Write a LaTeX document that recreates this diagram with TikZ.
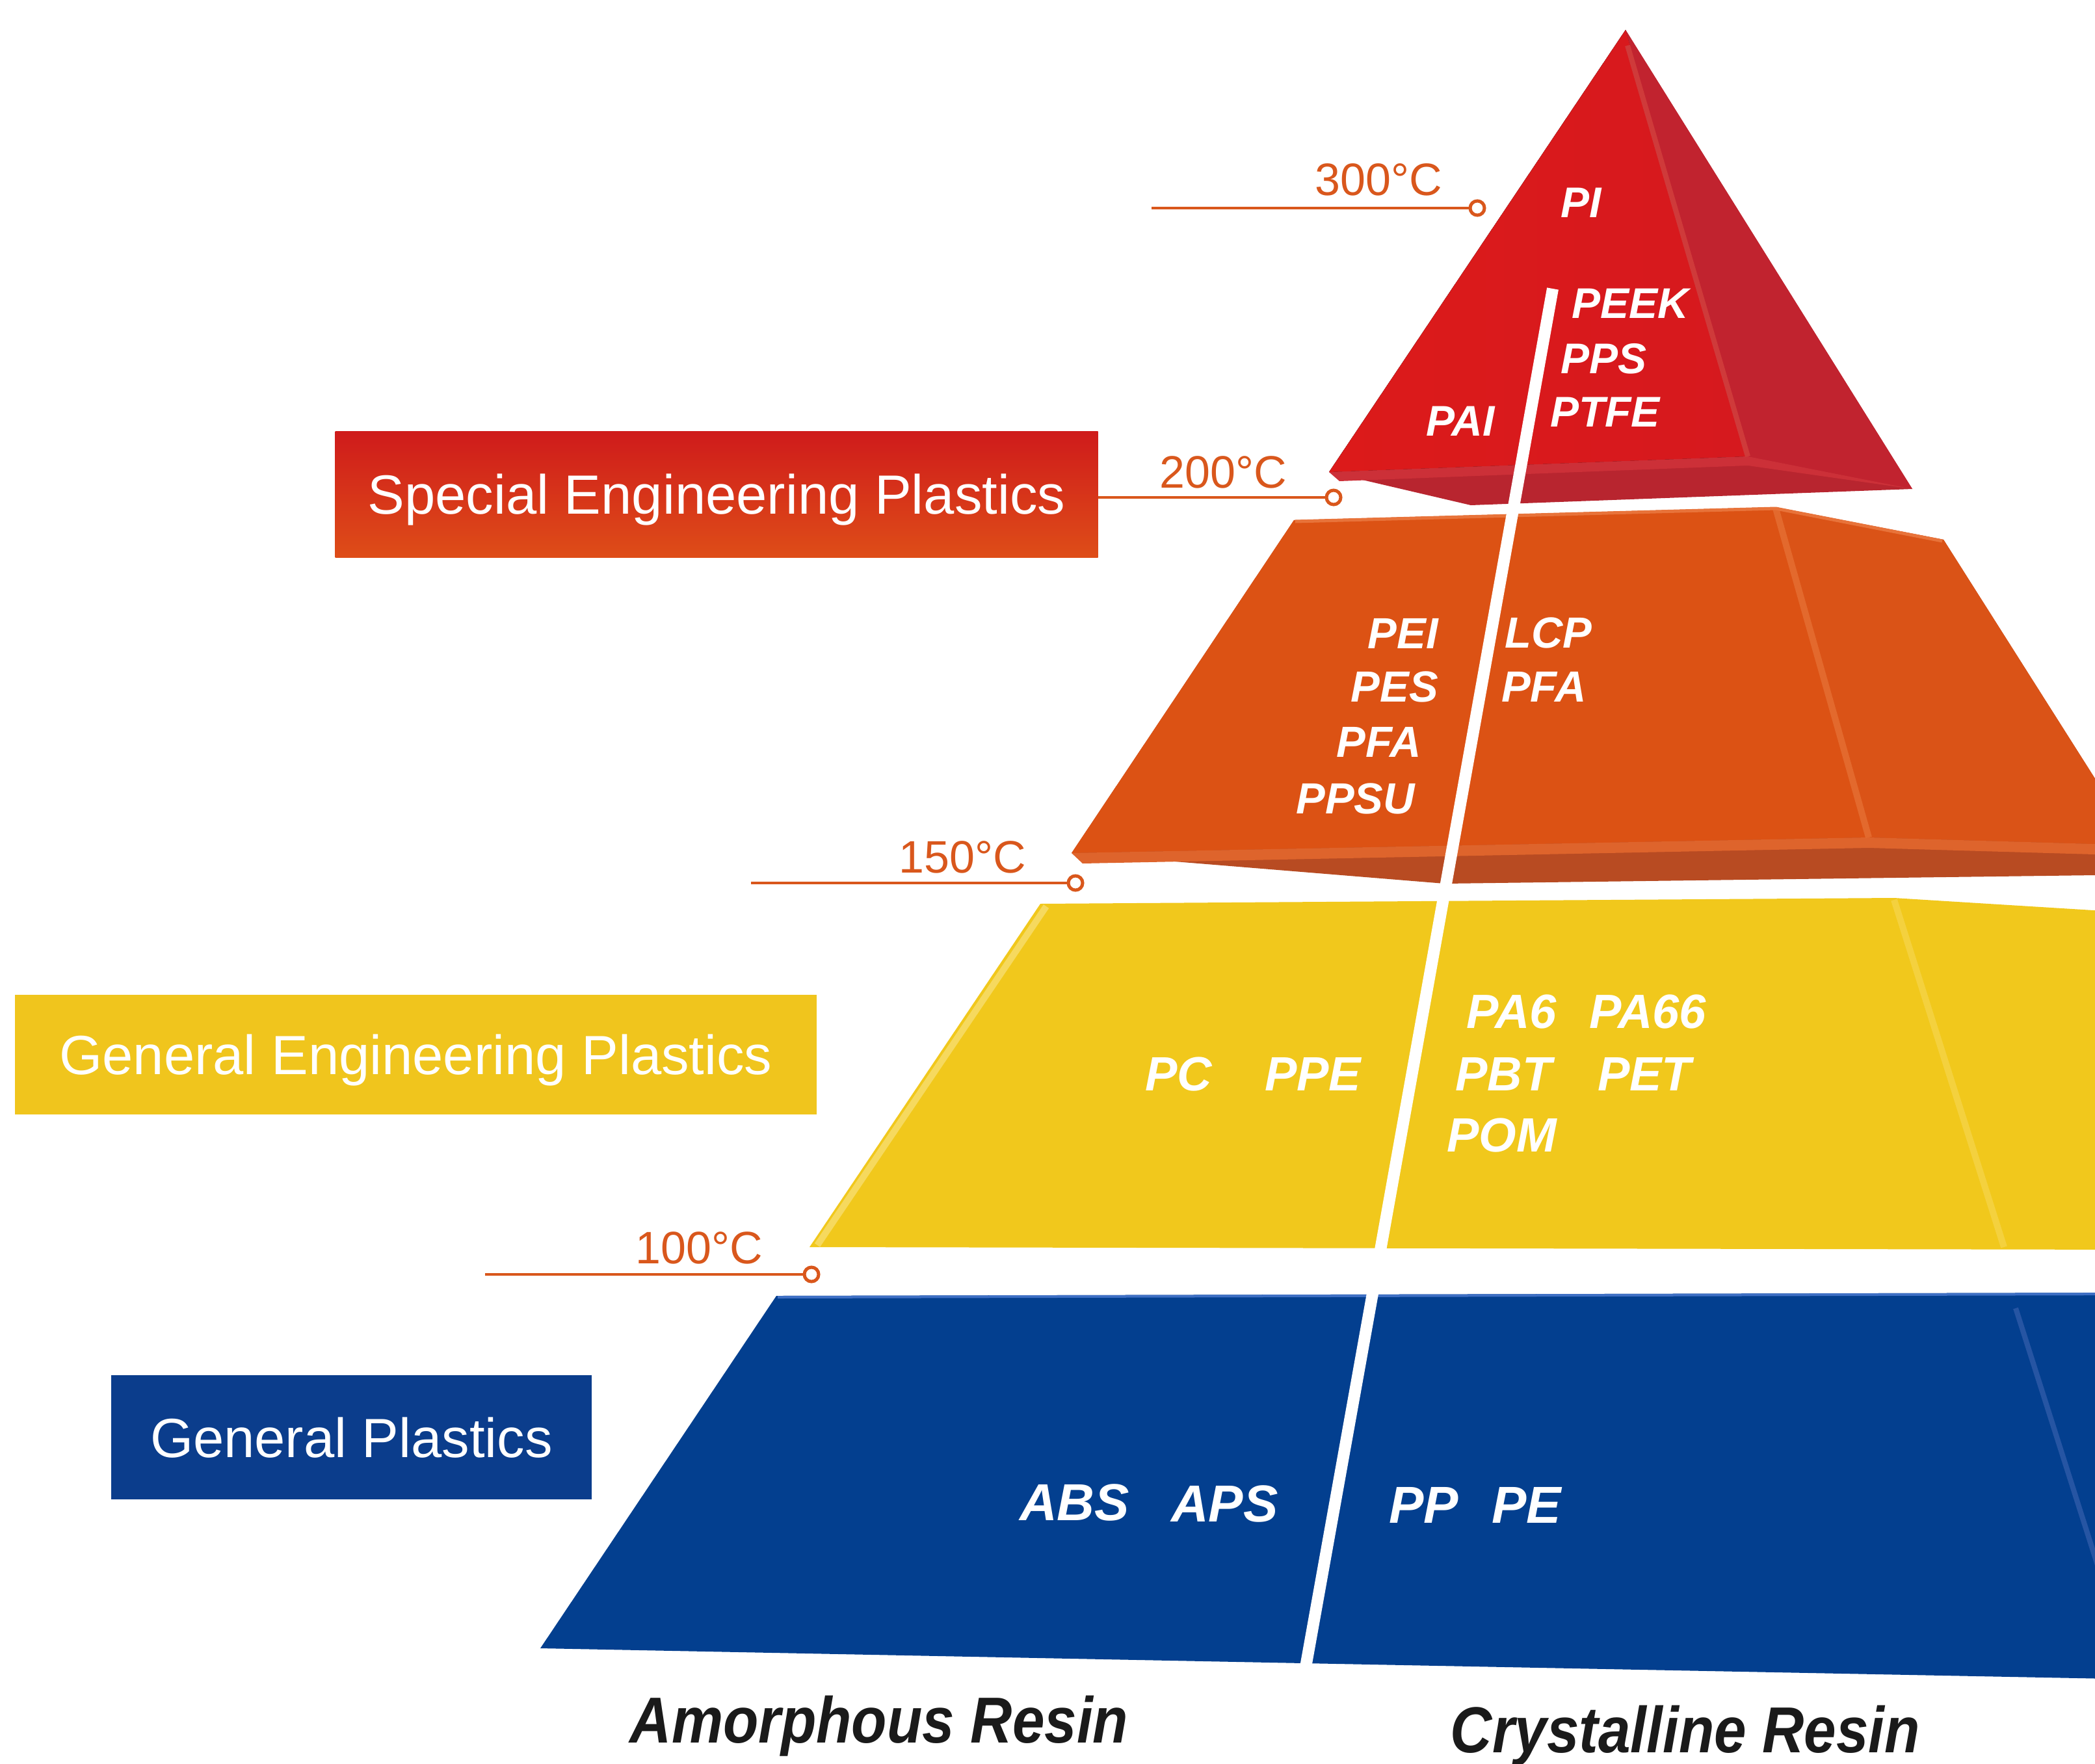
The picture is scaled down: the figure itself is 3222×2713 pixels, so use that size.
\documentclass[tikz,border=0pt]{standalone}
\usepackage{fontspec}
\setmainfont{Liberation Sans}
\newfontfamily\axisfont[FakeStretch=0.89]{Liberation Sans}
\definecolor{redfront}{HTML}{D6191E}
\definecolor{redfrontL}{HTML}{DC1A1A}
\definecolor{redright}{HTML}{C1232F}
\definecolor{redband}{HTML}{CC3038}
\definecolor{redbot}{HTML}{B8252F}
\definecolor{redridge}{HTML}{CF3A3A}
\definecolor{orfront}{HTML}{DC5214}
\definecolor{orright}{HTML}{DA5317}
\definecolor{orband}{HTML}{DE642C}
\definecolor{orbot}{HTML}{B84B22}
\definecolor{orridge}{HTML}{E3692D}
\definecolor{ortop}{HTML}{E8733A}
\definecolor{yelface}{HTML}{F1C81C}
\definecolor{yelridge}{HTML}{F4D13E}
\definecolor{yeledge}{HTML}{F6D95E}
\definecolor{bluface}{HTML}{033F8F}
\definecolor{bluridge}{HTML}{2655A3}
\definecolor{blutop}{HTML}{3E6FC4}
\definecolor{tempc}{HTML}{D9571C}
\definecolor{sepTop}{HTML}{CF1B1B}
\definecolor{sepBot}{HTML}{DE4D18}
\definecolor{gepc}{HTML}{F0C51D}
\definecolor{gpc}{HTML}{0B3D8C}
\definecolor{axisc}{HTML}{1A1A1A}
\begin{document}
\begin{tikzpicture}[x=1pt,y=-1pt,
  resin/.style={text=white, inner sep=0pt, font=\bfseries\itshape\fontsize{#1}{#1}\selectfont},
  temp/.style={text=tempc, inner sep=0pt, anchor=base east, font=\fontsize{70}{70}\selectfont},
  ring/.style={circle, draw=tempc, line width=5pt, fill=white, minimum size=22pt, inner sep=0pt},
  tline/.style={draw=tempc, line width=4pt},
  catbox/.style={text=white, inner sep=0pt, text height=61pt, text depth=0pt, font=\fontsize{85}{85}\selectfont},
  axislabel/.style={text=axisc, inner sep=0pt, anchor=base, font=\axisfont\bfseries\itshape\fontsize{100}{100}\selectfont}
]
\useasboundingbox (0,0) rectangle (3222,2713);
\fill[white] (0,0) rectangle (3222,2713);
\begin{scope}
\clip (0,0) rectangle (3222,2713);
% ---------- blue tier ----------
\fill[bluface] (1194,1993) -- (3300,1988) -- (3300,2583) -- (2005,2558) -- (831,2535) -- cycle;
\draw[blutop, line width=4pt] (1196,1995) -- (3300,1990);
\draw[bluridge, line width=8pt] (3100,2012) -- (3281,2580);
% ---------- yellow tier ----------
\fill[yelface] (1600,1390) -- (2913,1381) -- (3300,1405) -- (3300,1922) -- (1245,1918) -- cycle;
\draw[yelridge, line width=10pt] (2913,1384) -- (3082,1918);
\draw[yeledge, line width=10pt] (1609,1394) -- (1257,1915);
% ---------- orange tier ----------
\fill[orbot] (1990,800) -- (2731,780) -- (2989,830) -- (3287,1300) -- (3300,1345) -- (2222,1359) -- (1648,1312) -- cycle;
\fill[orfront] (1990,800) -- (2731,780) -- (2874,1288) -- (1648,1312) -- cycle;
\fill[orright] (2731,780) -- (2989,830) -- (3287,1300) -- (2874,1288) -- cycle;
\fill[orband] (1648,1312) -- (2874,1288) -- (3287,1300) -- (3290,1316) -- (2874,1304) -- (1665,1328) -- cycle;
\draw[orridge, line width=10pt] (2731,782) -- (2874,1288);
\draw[ortop, line width=5pt] (1992,802) -- (2731,782) -- (2987,832);
% ---------- red tier ----------
\fill[redbot] (2500,46) -- (2044,726) -- (2262,777) -- (2941,752) -- cycle;
\fill[left color=redfrontL, right color=redfront] (2500,46) -- (2044,726) -- (2688,702) -- cycle;
\fill[redright] (2500,46) -- (2688,702) -- (2941,752) -- cycle;
\fill[redband] (2044,726) -- (2688,702) -- (2941,752) -- (2688,716) -- (2060,740) -- cycle;
\draw[redridge, line width=8pt] (2503,70) -- (2688,702);
% ---------- divider ----------
\coordinate (dtop) at (2388,444);
\coordinate (dbot) at (2006,2575);
\draw[white, line width=18pt] (dtop) -- (dbot);
\end{scope}
% ---------- category boxes ----------
\node[catbox, top color=sepTop, bottom color=sepBot, minimum width=1173pt, minimum height=194pt] (sep) at (1102,760) {Special Engineering Plastics};
\node[catbox, fill=gepc, minimum width=1233pt, minimum height=184pt] (gep) at (639.5,1622) {General Engineering Plastics};
\node[catbox, fill=gpc, minimum width=739pt, minimum height=191pt] (gp) at (540.5,2210.5) {General Plastics};
% ---------- temperature markers ----------
\node[ring] (c300) at (2272,320) {};
\coordinate (l300) at (1771,320);
\draw[tline] (l300) -- (c300);
\node[temp] (t300) at (2218,301) {300°C};
\node[ring] (c200) at (2051,765) {};
\draw[tline] (sep.east |- c200) -- (c200);
\node[temp] (t200) at (1979,750) {200°C};
\node[ring] (c150) at (1654,1358) {};
\coordinate (l150) at (1155,1358);
\draw[tline] (l150) -- (c150);
\node[temp] (t150) at (1578,1342) {150°C};
\node[ring] (c100) at (1248,1960) {};
\coordinate (l100) at (746,1960);
\draw[tline] (l100) -- (c100);
\node[temp] (t100) at (1173,1943) {100°C};
% ---------- red resins ----------
\node[resin=66, anchor=west] (pi) at (2400,312) {PI};
\node[resin=66, anchor=west] (peek) at (2417,467) {PEEK};
\node[resin=66, anchor=west] (pps) at (2400,552) {PPS};
\node[resin=66, anchor=west] (ptfe) at (2384,634) {PTFE};
\node[resin=66, anchor=west] (pai) at (2193,648) {PAI};
% ---------- orange resins ----------
\node[resin=67, anchor=east] (pei) at (2212,974) {PEI};
\node[resin=67, anchor=east] (pes) at (2212,1056) {PES};
\node[resin=67, anchor=east] (pfal) at (2186,1141) {PFA};
\node[resin=67, anchor=east] (ppsu) at (2176,1228) {PPSU};
\node[resin=67, anchor=west] (lcp) at (2314,973) {LCP};
\node[resin=67, anchor=west] (pfar) at (2309,1056) {PFA};
% ---------- yellow resins ----------
\node[resin=74, anchor=west] (pc) at (1761,1652) {PC};
\node[resin=74, anchor=west] (ppe) at (1945,1652) {PPE};
\node[resin=74, anchor=west] (pa6) at (2255,1556) {PA6};
\node[resin=74, anchor=west] (pa66) at (2444,1556) {PA66};
\node[resin=74, anchor=west] (pbt) at (2238,1652) {PBT};
\node[resin=74, anchor=west] (pet) at (2457,1652) {PET};
\node[resin=74, anchor=west] (pom) at (2225,1746) {POM};
% ---------- blue resins ----------
\node[resin=80, anchor=west] (abs) at (1568,2311) {ABS};
\node[resin=80, anchor=west] (aps) at (1801,2313) {APS};
\node[resin=80, anchor=west] (pp) at (2136,2315) {PP};
\node[resin=80, anchor=west] (pe) at (2294,2315) {PE};
% ---------- axis labels ----------
\node[axislabel] (amor) at (1352,2680) {Amorphous Resin};
\node[axislabel] (crys) at (2592,2695) {Crystalline Resin};
\end{tikzpicture}
\end{document}
